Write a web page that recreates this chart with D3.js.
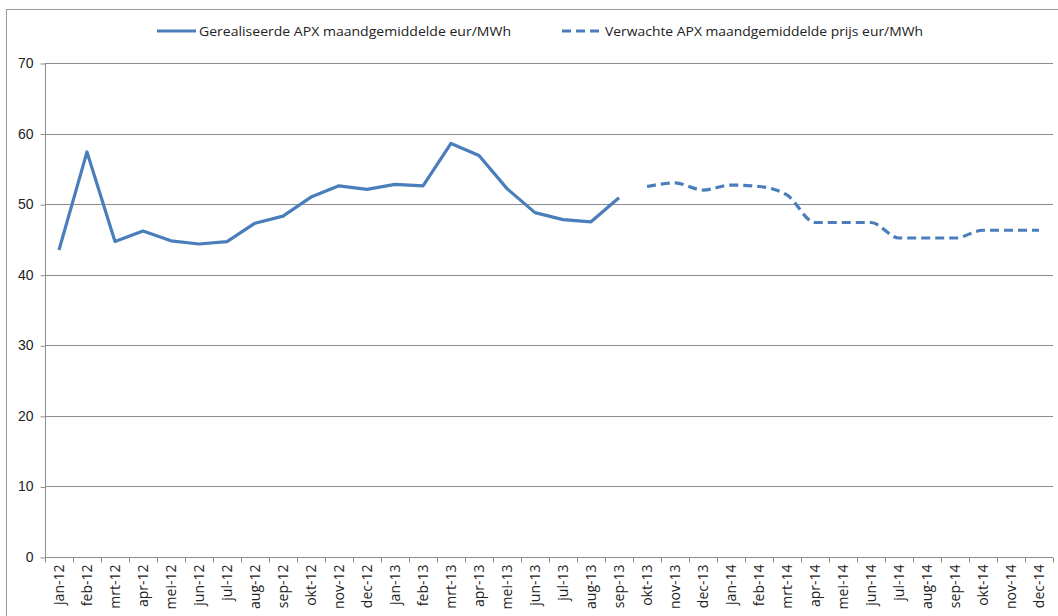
<!DOCTYPE html>
<html>
<head>
<meta charset="utf-8">
<script src="https://cdn.jsdelivr.net/npm/d3@7/dist/d3.min.js"></script>
<style>
  body { margin: 0; background: #fff; }
  svg { display: block; font-family: "Open Sans", "DejaVu Sans", sans-serif; }
  .grid line { stroke: #8c8c8c; stroke-width: 1; }
  .axis path, .axis line { stroke: #8c8c8c; }
  .axis text { fill: #222; font-size: 14px; }
  .line { fill: none; stroke: #4a7ebb; stroke-width: 3.2; stroke-linejoin: round; }
  .dashed { stroke-dasharray: 9, 5; stroke-linecap: butt; }
  .legend text { fill: #222; font-size: 12.5px; }
</style>
</head>
<body>
<div id="chart"></div>
<script>
// Months on the x axis
var months = [
  'jan-12', 'feb-12', 'mrt-12', 'apr-12', 'mei-12', 'jun-12', 'jul-12', 'aug-12', 'sep-12', 'okt-12', 'nov-12', 'dec-12',
  'jan-13', 'feb-13', 'mrt-13', 'apr-13', 'mei-13', 'jun-13', 'jul-13', 'aug-13', 'sep-13', 'okt-13', 'nov-13', 'dec-13',
  'jan-14', 'feb-14', 'mrt-14', 'apr-14', 'mei-14', 'jun-14', 'jul-14', 'aug-14', 'sep-14', 'okt-14', 'nov-14', 'dec-14'
];

// Realised APX monthly average (jan-12 .. sep-13)
var realised = [43.5, 57.4, 44.7, 46.2, 44.8, 44.35, 44.7, 47.3, 48.3, 51.0, 52.6, 52.1,
                52.8, 52.6, 58.6, 56.9, 52.2, 48.8, 47.8, 47.5, 50.9];

// Expected APX monthly average (okt-13 .. dec-14)
var expected = [52.5, 53.0, 52.0, 52.7, 52.5, 51.3, 47.4, 47.4, 47.4, 45.2, 45.2, 45.2, 46.3, 46.3, 46.3];

var yTicks = [0, 10, 20, 30, 40, 50, 60, 70];

var seriesNames = ['Gerealiseerde APX maandgemiddelde eur/MWh', 'Verwachte APX maandgemiddelde prijs eur/MWh'];

var W = 1058, H = 616;
var margin = {top: 63, left: 45, right: 5, bottom: 59};
var width = W - margin.left - margin.right;
var height = H - margin.top - margin.bottom;

var svg = d3.select('#chart').append('svg')
  .attr('width', W)
  .attr('height', H);

// outer chart frame
svg.append('rect')
  .attr('x', 6.5).attr('y', 9.5)
  .attr('width', W + 10).attr('height', H + 10)
  .attr('fill', 'none')
  .attr('stroke', '#9a9a9a');

var g = svg.append('g')
  .attr('transform', 'translate(' + margin.left + ',' + margin.top + ')');

var x = d3.scaleBand().domain(months).range([0, width]);
var y = d3.scaleLinear().domain([0, 70]).range([height, 0]);

// gridlines
g.append('g').attr('class', 'grid')
  .selectAll('line')
  .data(yTicks.filter(function(d) { return d > 0; }))
  .enter().append('line')
    .attr('x1', 0).attr('x2', width)
    .attr('y1', function(d) { return Math.round(y(d)) + 0.5; })
    .attr('y2', function(d) { return Math.round(y(d)) + 0.5; });

// y axis
var yAxis = g.append('g').attr('class', 'axis')
  .attr('transform', 'translate(0.5,0)')
  .call(d3.axisLeft(y).tickValues(yTicks).tickSize(5).tickPadding(7));
yAxis.select('.domain').attr('d', 'M0,' + (y(0) + 0.5) + 'V' + y(70));
yAxis.selectAll('.tick line').attr('transform', 'translate(0,0.5)');

// x axis with ticks on band edges
var xAxisG = g.append('g').attr('class', 'axis')
  .attr('transform', 'translate(0,' + (Math.round(height) + 0.5) + ')');
xAxisG.append('line')
  .attr('x1', 0).attr('x2', width)
  .attr('y1', 0).attr('y2', 0);
xAxisG.selectAll('.edge')
  .data(d3.range(months.length + 1))
  .enter().append('line')
    .attr('class', 'edge')
    .attr('x1', function(i) { return Math.round(i * x.step()) + 0.5; })
    .attr('x2', function(i) { return Math.round(i * x.step()) + 0.5; })
    .attr('y1', 0).attr('y2', 5);
xAxisG.selectAll('text')
  .data(months)
  .enter().append('text')
    .attr('transform', function(d) {
      return 'translate(' + (x(d) + x.bandwidth() / 2 + 5) + ',7) rotate(-90)';
    })
    .attr('text-anchor', 'end')
    .text(function(d) { return d; });

var line = d3.line()
  .x(function(d) { return x(d.m) + x.bandwidth() / 2; })
  .y(function(d) { return y(d.v); });

var realisedData = realised.map(function(v, i) { return {m: months[i], v: v}; });
var expectedData = expected.map(function(v, i) { return {m: months[realised.length + i], v: v}; });

g.append('path')
  .attr('class', 'line')
  .attr('d', line(realisedData));

g.append('path')
  .attr('class', 'line dashed')
  .attr('d', line.curve(d3.curveMonotoneX)(expectedData));

// legend
var legend = svg.append('g').attr('class', 'legend');
var legendItems = [
  {x: 157, textX: 199, len: 312, dashed: false},
  {x: 562, textX: 605, len: 318, dashed: true}
];
legendItems.forEach(function(item, i) {
  legend.append('line')
    .attr('class', item.dashed ? 'line dashed' : 'line')
    .attr('x1', item.x).attr('x2', item.x + 39)
    .attr('y1', 31).attr('y2', 31);
  legend.append('text')
    .attr('x', item.textX).attr('y', 35.5)
    .attr('textLength', item.len)
    .attr('lengthAdjust', 'spacingAndGlyphs')
    .text(seriesNames[i]);
});
</script>
</body>
</html>
